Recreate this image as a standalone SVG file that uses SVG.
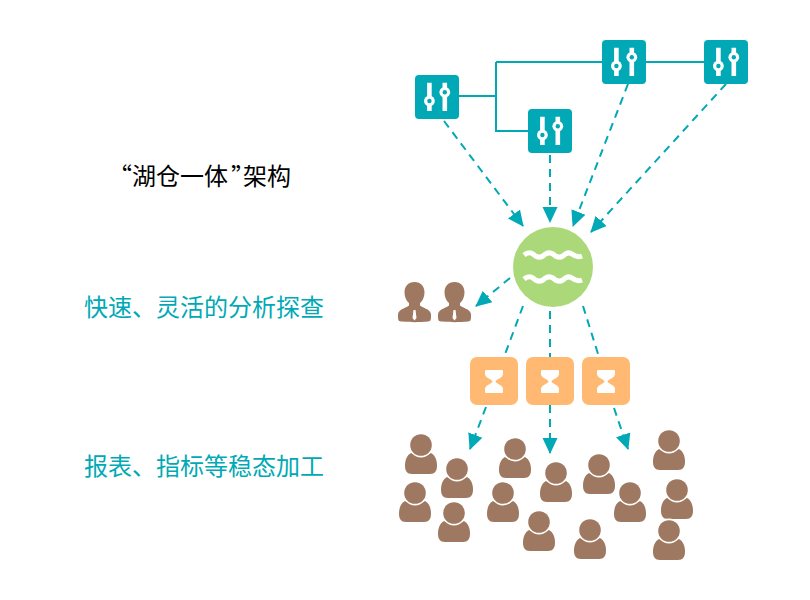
<svg xmlns="http://www.w3.org/2000/svg" width="810" height="600" viewBox="0 0 810 600">
<style>
text{font-family:"Noto Sans CJK SC","Noto Sans",sans-serif;font-size:24px}
.t{fill:#00A9B5}
.solid{fill:none;stroke:#00A9B5;stroke-width:2}
.dash{fill:none;stroke:#00A9B5;stroke-width:2;stroke-dasharray:8 6}
.arr{marker-end:url(#a)}
.tile{fill:#00A9B5}
.wave{fill:none;stroke:#fff;stroke-width:5}
.brown{fill:#9E7860}
</style>
<defs>
<marker id="a" markerUnits="userSpaceOnUse" markerWidth="18" markerHeight="16" refX="15" refY="8" orient="auto"><path d="M0 0.500L16 8L0 15.500z" fill="#00A9B5"/></marker>
<symbol id="slider" width="44" height="44" viewBox="0 0 44 44" overflow="visible">
<rect width="44" height="44" rx="4" class="tile"/>
<path d="M14.400 7.700V36M29.800 7.700V36" stroke="#fff" stroke-width="4.600"/>
<circle cx="14.400" cy="26" r="5.400" fill="#fff"/><circle cx="14.400" cy="26" r="2.200" class="tile"/>
<circle cx="29.800" cy="17.300" r="5.400" fill="#fff"/><circle cx="29.800" cy="17.300" r="2.200" class="tile"/>
</symbol>
<symbol id="hour" width="48" height="48" viewBox="0 0 48 48" overflow="visible">
<rect width="48" height="48" rx="7" fill="#FFB973"/>
<path d="M16 13H32Q33 13 33 14V17C33 21 26.500 22 25.500 24.500C26.500 27 33 28 33 32V35Q33 36 32 36H16Q15 36 15 35V32C15 28 21.500 27 22.500 24.500C21.500 22 15 21 15 17V14Q15 13 16 13Z" fill="#fff"/>
</symbol>
<symbol id="person" width="32" height="44" viewBox="0 0 32 44" overflow="visible">
<path d="M6 19C10 21 22 21 26 19C30 21 32 26 32 31.500C32 37 30 40 25 40H7C2 40 0 37 0 31.500C0 26 2 21 6 19Z" class="brown"/>
<circle cx="16" cy="11" r="12.400" fill="#fff"/>
<circle cx="16" cy="11" r="10.800" class="brown"/>
</symbol>
<symbol id="suit" width="33" height="41" viewBox="0 0 33 41" overflow="visible">
<path d="M16.500 0C23 0 26.500 4.500 26.500 10.500C26.500 15 24.500 19 22 21V23.500C24 26 32 26.500 33 32C33 36 33 38 32 39C28 40.500 5 40.500 1 39C0 38 0 36 0 32C1 26.500 9 26 11 23.500V21C8.500 19 6.500 15 6.500 10.500C6.500 4.500 10 0 16.500 0Z" class="brown"/>
<path d="M15.500 28H17.500L18.500 36L16.500 38.500L14.500 36Z" fill="#fff"/>
</symbol>
</defs>
<rect width="810" height="600" fill="#fff"/>
<g id="labels">
<text x="108 132 156 180 204 231 243 267" y="185" fill="#000">“湖仓一体”架构</text>
<text x="84" y="316" class="t">快速、灵活的分析探查</text>
<text x="84" y="475" class="t">报表、指标等稳态加工</text>
</g>
<g id="connectors">
<path class="solid" d="M459 96H496M496 62H602M646 62H704M496 62V131H528"/>
<path class="dash arr" d="M444 121L523 226"/>
<path class="dash arr" d="M550 155V222"/>
<path class="dash arr" d="M628 84L573 226"/>
<path class="dash arr" d="M726 84L591 232"/>
<path class="dash arr" d="M510 278L476 306"/>
<path class="dash" d="M523 306L504 357"/>
<path class="dash" d="M550 311V357"/>
<path class="dash" d="M583 306L599 357"/>
<path class="dash arr" d="M486 407L470 449"/>
<path class="dash arr" d="M550 405V453"/>
<path class="dash arr" d="M614 408L628 449"/>
</g>
<g id="src1"><use href="#slider" x="415" y="75"/></g>
<g id="src2"><use href="#slider" x="528" y="109"/></g>
<g id="src3"><use href="#slider" x="602" y="40"/></g>
<g id="src4"><use href="#slider" x="704" y="40"/></g>
<g id="lake">
<circle cx="553" cy="267" r="40" fill="#ABD97A"/>
<path class="wave" d="M524 255Q529 251 533 254Q538 259 543 256Q548 251 553 254Q558 259 563 256Q568 251 572 254Q577 258 582 256"/>
<path class="wave" d="M524 279Q529 275 533 278Q538 283 543 280Q548 275 553 278Q558 283 563 280Q568 275 572 278Q577 282 582 280"/>
</g>
<g id="analyst1"><use href="#suit" x="398" y="282"/></g>
<g id="analyst2"><use href="#suit" x="438" y="282"/></g>
<g id="proc1"><use href="#hour" x="470" y="357"/></g>
<g id="proc2"><use href="#hour" x="526" y="357"/></g>
<g id="proc3"><use href="#hour" x="582" y="357"/></g>
<g id="users">
<g id="u1"><use href="#person" x="405" y="434"/></g>
<g id="u2"><use href="#person" x="441" y="458"/></g>
<g id="u3"><use href="#person" x="399" y="482"/></g>
<g id="u4"><use href="#person" x="438" y="502"/></g>
<g id="u5"><use href="#person" x="499" y="438"/></g>
<g id="u6"><use href="#person" x="487" y="482"/></g>
<g id="u7"><use href="#person" x="540" y="462"/></g>
<g id="u8"><use href="#person" x="523" y="511"/></g>
<g id="u9"><use href="#person" x="583" y="454"/></g>
<g id="u10"><use href="#person" x="614" y="482"/></g>
<g id="u11"><use href="#person" x="574" y="519"/></g>
<g id="u12"><use href="#person" x="653" y="430"/></g>
<g id="u13"><use href="#person" x="661" y="479"/></g>
<g id="u14"><use href="#person" x="653" y="520"/></g>
</g>
</svg>
